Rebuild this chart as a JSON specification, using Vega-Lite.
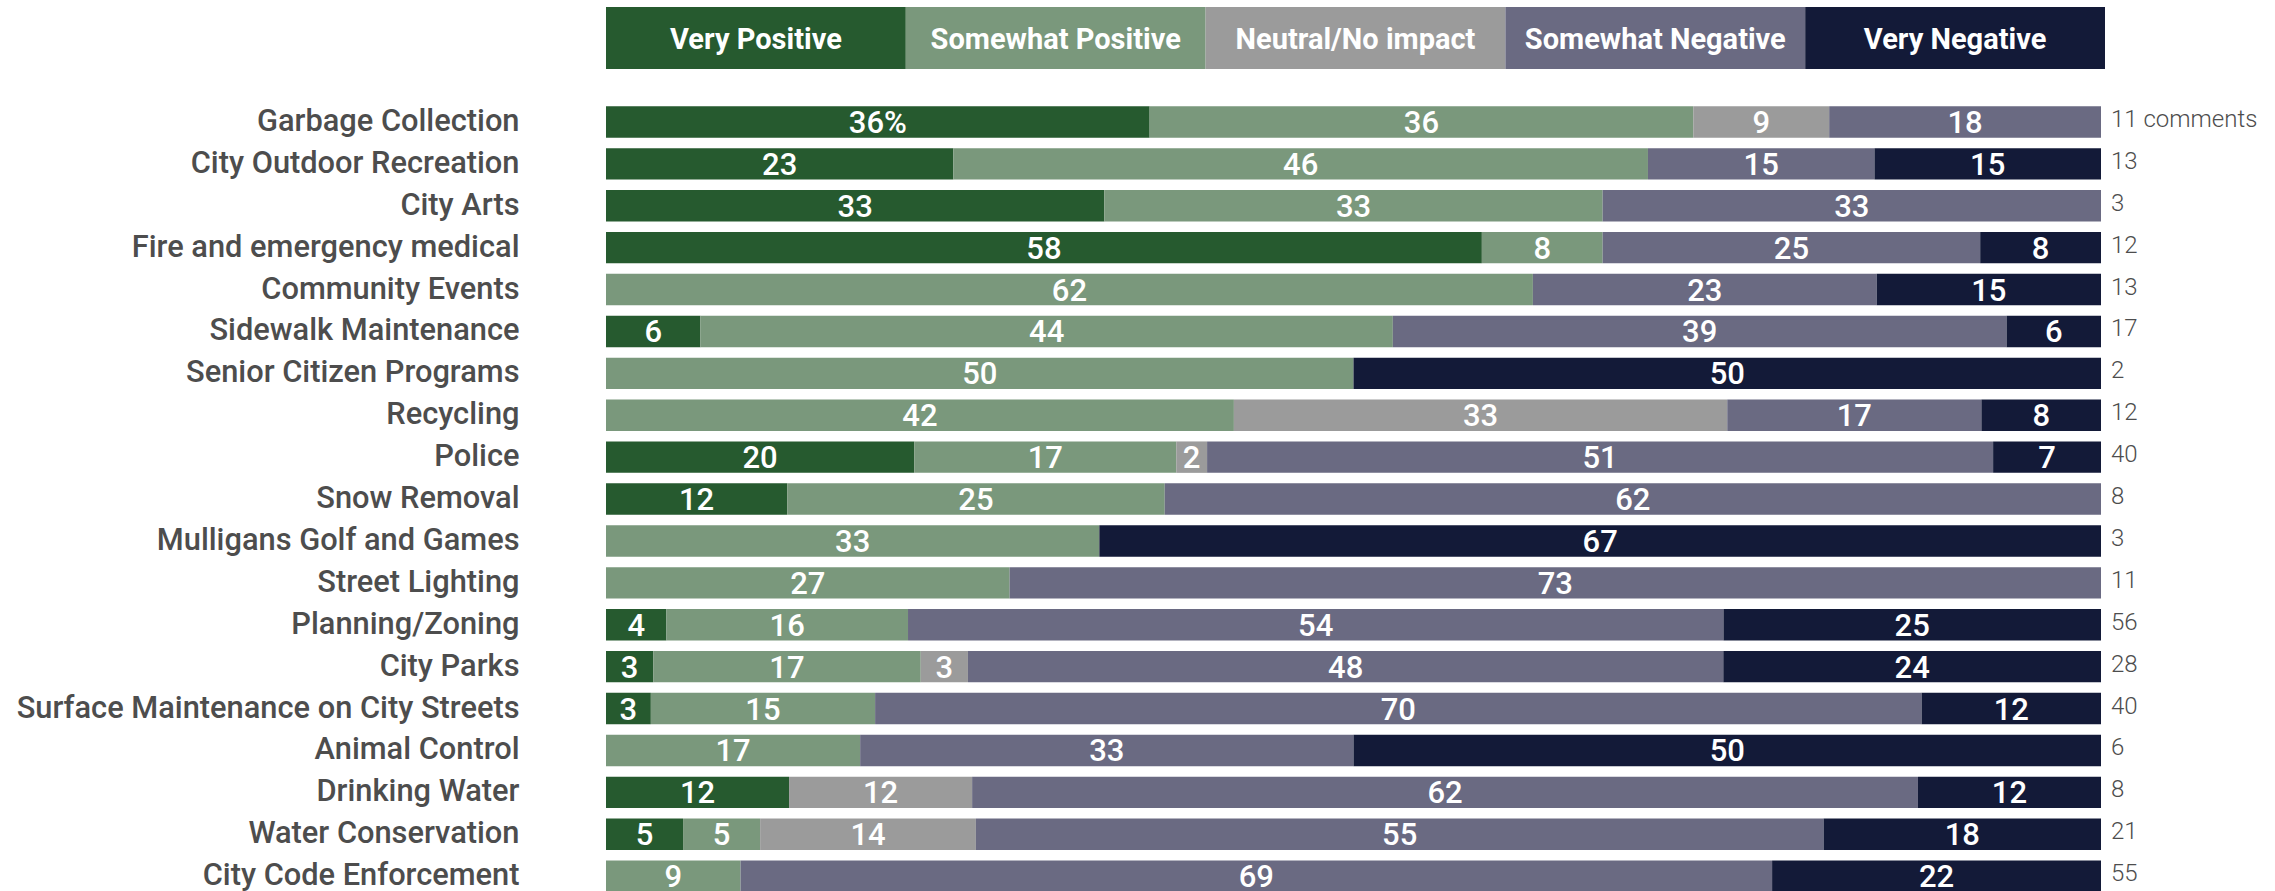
{
  "$schema": "https://vega.github.io/schema/vega-lite/v6.json",
  "padding": {"left": 16, "top": 7, "right": 0, "bottom": 0},
  "background": "white",
  "config": {"view": {"stroke": null}, "concat": {"spacing": 32}},
  "spacing": 32,
  "datasets": {
    "ratings": [
      {"rating": "Very Positive", "score": 5},
      {"rating": "Somewhat Positive", "score": 4},
      {"rating": "Neutral/No impact", "score": 3},
      {"rating": "Somewhat Negative", "score": 2},
      {"rating": "Very Negative", "score": 1}
    ],
    "responses": [
      {"service": "Garbage Collection", "rating": "Very Positive", "score": 5, "pct": 36, "label": "36%"},
      {"service": "Garbage Collection", "rating": "Somewhat Positive", "score": 4, "pct": 36, "label": "36"},
      {"service": "Garbage Collection", "rating": "Neutral/No impact", "score": 3, "pct": 9, "label": "9"},
      {"service": "Garbage Collection", "rating": "Somewhat Negative", "score": 2, "pct": 18, "label": "18"},
      {"service": "City Outdoor Recreation", "rating": "Very Positive", "score": 5, "pct": 23, "label": "23"},
      {"service": "City Outdoor Recreation", "rating": "Somewhat Positive", "score": 4, "pct": 46, "label": "46"},
      {"service": "City Outdoor Recreation", "rating": "Somewhat Negative", "score": 2, "pct": 15, "label": "15"},
      {"service": "City Outdoor Recreation", "rating": "Very Negative", "score": 1, "pct": 15, "label": "15"},
      {"service": "City Arts", "rating": "Very Positive", "score": 5, "pct": 33, "label": "33"},
      {"service": "City Arts", "rating": "Somewhat Positive", "score": 4, "pct": 33, "label": "33"},
      {"service": "City Arts", "rating": "Somewhat Negative", "score": 2, "pct": 33, "label": "33"},
      {"service": "Fire and emergency medical", "rating": "Very Positive", "score": 5, "pct": 58, "label": "58"},
      {"service": "Fire and emergency medical", "rating": "Somewhat Positive", "score": 4, "pct": 8, "label": "8"},
      {"service": "Fire and emergency medical", "rating": "Somewhat Negative", "score": 2, "pct": 25, "label": "25"},
      {"service": "Fire and emergency medical", "rating": "Very Negative", "score": 1, "pct": 8, "label": "8"},
      {"service": "Community Events", "rating": "Somewhat Positive", "score": 4, "pct": 62, "label": "62"},
      {"service": "Community Events", "rating": "Somewhat Negative", "score": 2, "pct": 23, "label": "23"},
      {"service": "Community Events", "rating": "Very Negative", "score": 1, "pct": 15, "label": "15"},
      {"service": "Sidewalk Maintenance", "rating": "Very Positive", "score": 5, "pct": 6, "label": "6"},
      {"service": "Sidewalk Maintenance", "rating": "Somewhat Positive", "score": 4, "pct": 44, "label": "44"},
      {"service": "Sidewalk Maintenance", "rating": "Somewhat Negative", "score": 2, "pct": 39, "label": "39"},
      {"service": "Sidewalk Maintenance", "rating": "Very Negative", "score": 1, "pct": 6, "label": "6"},
      {"service": "Senior Citizen Programs", "rating": "Somewhat Positive", "score": 4, "pct": 50, "label": "50"},
      {"service": "Senior Citizen Programs", "rating": "Very Negative", "score": 1, "pct": 50, "label": "50"},
      {"service": "Recycling", "rating": "Somewhat Positive", "score": 4, "pct": 42, "label": "42"},
      {"service": "Recycling", "rating": "Neutral/No impact", "score": 3, "pct": 33, "label": "33"},
      {"service": "Recycling", "rating": "Somewhat Negative", "score": 2, "pct": 17, "label": "17"},
      {"service": "Recycling", "rating": "Very Negative", "score": 1, "pct": 8, "label": "8"},
      {"service": "Police", "rating": "Very Positive", "score": 5, "pct": 20, "label": "20"},
      {"service": "Police", "rating": "Somewhat Positive", "score": 4, "pct": 17, "label": "17"},
      {"service": "Police", "rating": "Neutral/No impact", "score": 3, "pct": 2, "label": "2"},
      {"service": "Police", "rating": "Somewhat Negative", "score": 2, "pct": 51, "label": "51"},
      {"service": "Police", "rating": "Very Negative", "score": 1, "pct": 7, "label": "7"},
      {"service": "Snow Removal", "rating": "Very Positive", "score": 5, "pct": 12, "label": "12"},
      {"service": "Snow Removal", "rating": "Somewhat Positive", "score": 4, "pct": 25, "label": "25"},
      {"service": "Snow Removal", "rating": "Somewhat Negative", "score": 2, "pct": 62, "label": "62"},
      {"service": "Mulligans Golf and Games", "rating": "Somewhat Positive", "score": 4, "pct": 33, "label": "33"},
      {"service": "Mulligans Golf and Games", "rating": "Very Negative", "score": 1, "pct": 67, "label": "67"},
      {"service": "Street Lighting", "rating": "Somewhat Positive", "score": 4, "pct": 27, "label": "27"},
      {"service": "Street Lighting", "rating": "Somewhat Negative", "score": 2, "pct": 73, "label": "73"},
      {"service": "Planning/Zoning", "rating": "Very Positive", "score": 5, "pct": 4, "label": "4"},
      {"service": "Planning/Zoning", "rating": "Somewhat Positive", "score": 4, "pct": 16, "label": "16"},
      {"service": "Planning/Zoning", "rating": "Somewhat Negative", "score": 2, "pct": 54, "label": "54"},
      {"service": "Planning/Zoning", "rating": "Very Negative", "score": 1, "pct": 25, "label": "25"},
      {"service": "City Parks", "rating": "Very Positive", "score": 5, "pct": 3, "label": "3"},
      {"service": "City Parks", "rating": "Somewhat Positive", "score": 4, "pct": 17, "label": "17"},
      {"service": "City Parks", "rating": "Neutral/No impact", "score": 3, "pct": 3, "label": "3"},
      {"service": "City Parks", "rating": "Somewhat Negative", "score": 2, "pct": 48, "label": "48"},
      {"service": "City Parks", "rating": "Very Negative", "score": 1, "pct": 24, "label": "24"},
      {"service": "Surface Maintenance on City Streets", "rating": "Very Positive", "score": 5, "pct": 3, "label": "3"},
      {"service": "Surface Maintenance on City Streets", "rating": "Somewhat Positive", "score": 4, "pct": 15, "label": "15"},
      {"service": "Surface Maintenance on City Streets", "rating": "Somewhat Negative", "score": 2, "pct": 70, "label": "70"},
      {"service": "Surface Maintenance on City Streets", "rating": "Very Negative", "score": 1, "pct": 12, "label": "12"},
      {"service": "Animal Control", "rating": "Somewhat Positive", "score": 4, "pct": 17, "label": "17"},
      {"service": "Animal Control", "rating": "Somewhat Negative", "score": 2, "pct": 33, "label": "33"},
      {"service": "Animal Control", "rating": "Very Negative", "score": 1, "pct": 50, "label": "50"},
      {"service": "Drinking Water", "rating": "Very Positive", "score": 5, "pct": 12, "label": "12"},
      {"service": "Drinking Water", "rating": "Neutral/No impact", "score": 3, "pct": 12, "label": "12"},
      {"service": "Drinking Water", "rating": "Somewhat Negative", "score": 2, "pct": 62, "label": "62"},
      {"service": "Drinking Water", "rating": "Very Negative", "score": 1, "pct": 12, "label": "12"},
      {"service": "Water Conservation", "rating": "Very Positive", "score": 5, "pct": 5, "label": "5"},
      {"service": "Water Conservation", "rating": "Somewhat Positive", "score": 4, "pct": 5, "label": "5"},
      {"service": "Water Conservation", "rating": "Neutral/No impact", "score": 3, "pct": 14, "label": "14"},
      {"service": "Water Conservation", "rating": "Somewhat Negative", "score": 2, "pct": 55, "label": "55"},
      {"service": "Water Conservation", "rating": "Very Negative", "score": 1, "pct": 18, "label": "18"},
      {"service": "City Code Enforcement", "rating": "Somewhat Positive", "score": 4, "pct": 9, "label": "9"},
      {"service": "City Code Enforcement", "rating": "Somewhat Negative", "score": 2, "pct": 69, "label": "69"},
      {"service": "City Code Enforcement", "rating": "Very Negative", "score": 1, "pct": 22, "label": "22"}
    ],
    "comments": [
      {"service": "Garbage Collection", "comments": 11, "label": "11 comments"},
      {"service": "City Outdoor Recreation", "comments": 13, "label": "13"},
      {"service": "City Arts", "comments": 3, "label": "3"},
      {"service": "Fire and emergency medical", "comments": 12, "label": "12"},
      {"service": "Community Events", "comments": 13, "label": "13"},
      {"service": "Sidewalk Maintenance", "comments": 17, "label": "17"},
      {"service": "Senior Citizen Programs", "comments": 2, "label": "2"},
      {"service": "Recycling", "comments": 12, "label": "12"},
      {"service": "Police", "comments": 40, "label": "40"},
      {"service": "Snow Removal", "comments": 8, "label": "8"},
      {"service": "Mulligans Golf and Games", "comments": 3, "label": "3"},
      {"service": "Street Lighting", "comments": 11, "label": "11"},
      {"service": "Planning/Zoning", "comments": 56, "label": "56"},
      {"service": "City Parks", "comments": 28, "label": "28"},
      {"service": "Surface Maintenance on City Streets", "comments": 40, "label": "40"},
      {"service": "Animal Control", "comments": 6, "label": "6"},
      {"service": "Drinking Water", "comments": 8, "label": "8"},
      {"service": "Water Conservation", "comments": 21, "label": "21"},
      {"service": "City Code Enforcement", "comments": 55, "label": "55"}
    ]
  },
  "vconcat": [
    {
      "width": 1499,
      "height": 62,
      "data": {"name": "ratings"},
      "encoding": {
        "x": {
          "field": "rating", "type": "nominal",
          "sort": ["Very Positive", "Somewhat Positive", "Neutral/No impact", "Somewhat Negative", "Very Negative"],
          "scale": {"paddingInner": 0, "paddingOuter": 0},
          "axis": null
        }
      },
      "layer": [
        {
          "mark": {"type": "bar"},
          "encoding": {
            "color": {
              "field": "rating", "type": "nominal", "legend": null,
              "scale": {
                "domain": ["Very Positive", "Somewhat Positive", "Neutral/No impact", "Somewhat Negative", "Very Negative"],
                "range": ["#265A2F", "#7A987C", "#9B9B9B", "#6A6A82", "#131A38"]
              }
            }
          }
        },
        {
          "mark": {"type": "text", "color": "white", "font": "Roboto", "fontSize": 29, "fontWeight": "bold", "dy": 2},
          "encoding": {"text": {"field": "rating", "type": "nominal"}}
        }
      ]
    },
    {
      "width": 1495,
      "height": {"step": 41.9},
      "layer": [
        {
          "data": {"name": "responses"},
          "mark": {"type": "bar"},
          "encoding": {
            "y": {
              "field": "service", "type": "nominal",
              "sort": ["Garbage Collection", "City Outdoor Recreation", "City Arts", "Fire and emergency medical", "Community Events", "Sidewalk Maintenance", "Senior Citizen Programs", "Recycling", "Police", "Snow Removal", "Mulligans Golf and Games", "Street Lighting", "Planning/Zoning", "City Parks", "Surface Maintenance on City Streets", "Animal Control", "Drinking Water", "Water Conservation", "City Code Enforcement"],
              "scale": {"paddingInner": 0.25, "paddingOuter": 0.125},
              "axis": {"title": null, "ticks": false, "domain": false, "labelPadding": 87, "labelLimit": 1000, "labelFont": "Roboto", "labelFontSize": 30.8, "labelFontWeight": 500, "labelColor": "#4D4D4D"}
            },
            "x": {"field": "pct", "type": "quantitative", "stack": "normalize", "axis": null},
            "color": {
              "field": "rating", "type": "nominal", "legend": null,
              "scale": {
                "domain": ["Very Positive", "Somewhat Positive", "Neutral/No impact", "Somewhat Negative", "Very Negative"],
                "range": ["#265A2F", "#7A987C", "#9B9B9B", "#6A6A82", "#131A38"]
              }
            },
            "order": {"field": "score", "type": "quantitative", "sort": "descending"}
          }
        },
        {
          "data": {"name": "responses"},
          "mark": {"type": "text", "color": "white", "font": "Roboto", "fontSize": 31, "fontWeight": 500, "dy": 2},
          "encoding": {
            "y": {
              "field": "service", "type": "nominal",
              "sort": ["Garbage Collection", "City Outdoor Recreation", "City Arts", "Fire and emergency medical", "Community Events", "Sidewalk Maintenance", "Senior Citizen Programs", "Recycling", "Police", "Snow Removal", "Mulligans Golf and Games", "Street Lighting", "Planning/Zoning", "City Parks", "Surface Maintenance on City Streets", "Animal Control", "Drinking Water", "Water Conservation", "City Code Enforcement"]
            },
            "x": {"field": "pct", "type": "quantitative", "stack": "normalize", "bandPosition": 0.5},
            "detail": {"field": "rating", "type": "nominal"},
            "order": {"field": "score", "type": "quantitative", "sort": "descending"},
            "text": {"field": "label", "type": "nominal"}
          }
        },
        {
          "data": {"name": "comments"},
          "mark": {"type": "text", "align": "left", "dx": 10, "dy": -2, "color": "#4D4D4D", "font": "Roboto", "fontSize": 24, "fontWeight": 300},
          "encoding": {
            "y": {
              "field": "service", "type": "nominal",
              "sort": ["Garbage Collection", "City Outdoor Recreation", "City Arts", "Fire and emergency medical", "Community Events", "Sidewalk Maintenance", "Senior Citizen Programs", "Recycling", "Police", "Snow Removal", "Mulligans Golf and Games", "Street Lighting", "Planning/Zoning", "City Parks", "Surface Maintenance on City Streets", "Animal Control", "Drinking Water", "Water Conservation", "City Code Enforcement"]
            },
            "x": {"datum": 1, "type": "quantitative"},
            "text": {"field": "label", "type": "nominal"}
          }
        }
      ]
    }
  ]
}
